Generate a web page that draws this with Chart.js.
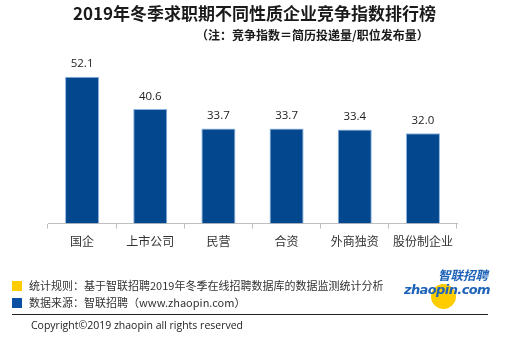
<!DOCTYPE html>
<html>
<head>
<meta charset="utf-8">
<script src="https://cdn.jsdelivr.net/npm/chart.js@4"></script>
<style>
  body { margin: 0; background: #fff; font-family: "Noto Sans CJK SC", "Noto Sans", sans-serif; }
  #wrap { position: relative; width: 527px; height: 339px; overflow: hidden; }
  #chart { position: absolute; left: 0; top: 0; }
  .txt { position: absolute; white-space: nowrap; color: #1a1a1a; }
  .sq { position: absolute; width: 10px; height: 10px; }
</style>
</head>
<body>
<div id="wrap">
  <canvas id="chart" width="527" height="339"></canvas>
  <div class="txt" style="left:73px;top:0px;font-size:17px;font-weight:bold;">2019年冬季求职期不同性质企业竞争指数排行榜</div>
  <div class="txt" style="left:196px;top:26px;font-size:12px;font-weight:bold;">（注：竞争指数＝简历投递量/职位发布量）</div>

  <div class="sq" style="left:12px;top:281px;background:#ffcc00;"></div>
  <div class="txt" style="left:29px;top:277px;font-size:11px;color:#333;">统计规则：基于智联招聘2019年冬季在线招聘数据库的数据监测统计分析</div>
  <div class="sq" style="left:12px;top:298px;background:#0a4fa3;"></div>
  <div class="txt" style="left:29px;top:294px;font-size:11px;color:#333;">数据来源：智联招聘（www.zhaopin.com）</div>
  <div style="position:absolute;left:12px;top:314px;width:476px;height:1px;background:#222;"></div>
  <div class="txt" style="left:31px;top:318px;font-size:10.5px;color:#222;font-family:'Open Sans',sans-serif;">Copyright©2019 zhaopin all rights reserved</div>

  <!-- logo -->
  <div style="position:absolute;left:431px;top:284px;width:25px;height:25px;border-radius:50%;background:#ffcc00;"></div>
  <div class="txt" style="left:438px;top:265px;font-size:12.5px;font-weight:bold;color:#1e63b8;font-style:italic;">智联招聘</div>
  <div class="txt" style="left:404px;top:282px;font-size:13px;font-weight:bold;color:#1e63b8;font-style:italic;font-family:'DejaVu Sans',sans-serif;letter-spacing:-0.6px;">zhaopin.com</div>
</div>
<script>
// competition index by employer type
const categories = ['国企', '上市公司', '民营', '合资', '外商独资', '股份制企业'];
const indexValues = [52.1, 40.6, 33.7, 33.7, 33.4, 32.0];

// value labels above each bar
const valueLabels = {
    id: 'valueLabels',
    afterDatasetsDraw(chart) {
        const ctx = chart.ctx;
        const meta = chart.getDatasetMeta(0);
        ctx.save();
        ctx.font = '11.5px "Open Sans", "Noto Sans", sans-serif';
        ctx.fillStyle = '#222';
        ctx.textAlign = 'center';
        ctx.textBaseline = 'bottom';
        meta.data.forEach((bar, i) => {
            ctx.fillText(indexValues[i].toFixed(1), bar.x, bar.y - 7);
        });
        ctx.restore();
    }
};

const ctx = document.getElementById('chart').getContext('2d');
new Chart(ctx, {
    type: 'bar',
    data: {
        labels: categories,
        datasets: [{
            data: indexValues,
            backgroundColor: '#03478f',
            borderColor: '#8fb4e0',
            borderWidth: 1,
            categoryPercentage: 1,
            barPercentage: 0.5
        }]
    },
    options: {
        responsive: false,
        animation: false,
        layout: { padding: { left: 48, right: 70, top: 60, bottom: 84 } },
        plugins: { legend: { display: false }, tooltip: { enabled: false } },
        scales: {
            x: {
                grid: { offset: true, drawOnChartArea: false, color: '#bfbfbf', tickLength: 5 },
                border: { color: '#bfbfbf' },
                ticks: { color: '#333', font: { size: 12, family: '"Noto Sans CJK SC"' }, padding: 6 }
            },
            y: {
                display: false,
                min: 0,
                max: 58
            }
        }
    },
    plugins: [valueLabels]
});
</script>
</body>
</html>
